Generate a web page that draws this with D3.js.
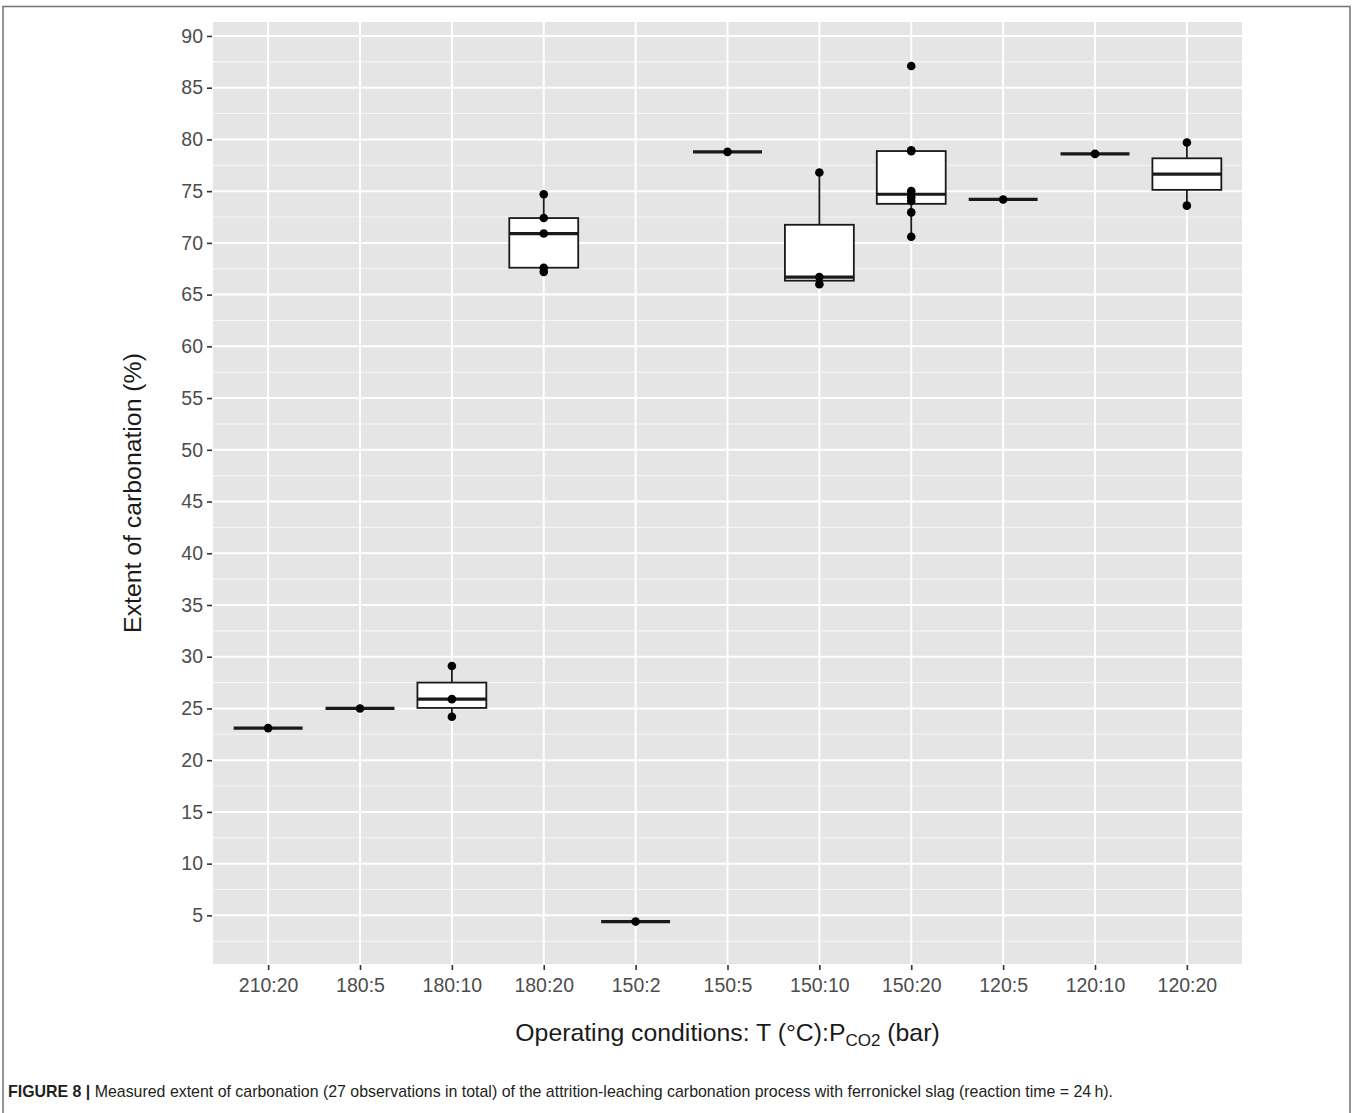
<!DOCTYPE html>
<html>
<head>
<meta charset="utf-8">
<script src="https://cdn.jsdelivr.net/npm/d3@7"></script>
<style>
  html, body { margin: 0; padding: 0; background: #fff; }
  svg { display: block; }
</style>
</head>
<body>
<svg id="chart" width="1352" height="1113"></svg>
<script>
// ---- data ----
const categories = ["210:20","180:5","180:10","180:20","150:2","150:5","150:10","150:20","120:5","120:10","120:20"];
const obs_210_20 = [23.1];
const obs_180_5  = [25.0];
const obs_180_10 = [24.2, 25.9, 29.1];
const obs_180_20 = [67.2, 67.6, 70.9, 72.4, 74.7];
const obs_150_2  = [4.4];
const obs_150_5  = [78.8];
const obs_150_10 = [66.0, 66.7, 76.8];
const obs_150_20 = [70.6, 72.95, 74.05, 74.4, 75.0, 78.85, 78.95, 87.1];
const obs_120_5  = [74.2];
const obs_120_10 = [78.6];
const obs_120_20 = [73.6, 79.7];
const observations = [obs_210_20, obs_180_5, obs_180_10, obs_180_20, obs_150_2, obs_150_5,
                      obs_150_10, obs_150_20, obs_120_5, obs_120_10, obs_120_20];
const yTicks = [5,10,15,20,25,30,35,40,45,50,55,60,65,70,75,80,85,90];
const yMinor = [2.5,7.5,12.5,17.5,22.5,27.5,32.5,37.5,42.5,47.5,52.5,57.5,62.5,67.5,72.5,77.5,82.5,87.5];
const yTitle = "Extent of carbonation (%)";
const captionBold = "FIGURE 8 |";
const captionText = " Measured extent of carbonation (27 observations in total) of the attrition-leaching carbonation process with ferronickel slag (reaction time = 24\u2009h).";

// ---- layout ----
const svg = d3.select("#chart");
const P = {left: 213, right: 1242, top: 22, bottom: 964};
const font = "Arial, 'Liberation Sans', Helvetica, sans-serif";

// frame
svg.append("rect").attr("x", 3).attr("y", 6.5).attr("width", 1347).attr("height", 1120)
  .attr("fill", "none").attr("stroke", "#7a7a7a").attr("stroke-width", 1.6);

// ggplot discrete expansion: 0.6 units on each side
const step = (P.right - P.left) / (categories.length + 0.2);
const xScalePoint = d3.scalePoint().domain(categories)
  .range([P.left + step * 0.6, P.right - step * 0.6]);
const xc = c => xScalePoint(c);
const y = d3.scaleLinear().domain([0.3, 91.35]).range([P.bottom, P.top]);

// panel
svg.append("rect").attr("x", P.left).attr("y", P.top)
  .attr("width", P.right - P.left).attr("height", P.bottom - P.top).attr("fill", "#e5e5e5");

const grid = svg.append("g");
grid.selectAll(".minor").data(yMinor).join("line")
  .attr("x1", P.left).attr("x2", P.right)
  .attr("y1", d => y(d)).attr("y2", d => y(d))
  .attr("stroke", "#f6f6f6").attr("stroke-width", 1.1);
grid.selectAll(".major").data(yTicks).join("line")
  .attr("x1", P.left).attr("x2", P.right)
  .attr("y1", d => y(d)).attr("y2", d => y(d))
  .attr("stroke", "#ffffff").attr("stroke-width", 2);
grid.selectAll(".vmajor").data(categories).join("line")
  .attr("x1", d => xc(d)).attr("x2", d => xc(d))
  .attr("y1", P.top).attr("y2", P.bottom)
  .attr("stroke", "#ffffff").attr("stroke-width", 2);

// axes
const yAxis = d3.axisLeft(y).tickValues(yTicks).tickSize(5).tickPadding(4);
const gy = svg.append("g").attr("transform", `translate(${P.left - 1},0)`).call(yAxis);
gy.select(".domain").remove();
gy.selectAll(".tick line").attr("stroke", "#333").attr("stroke-width", 1.6);
gy.selectAll(".tick text").attr("fill", "#4d4d4d").style("font-family", font).style("font-size", "19.5px");

const xAxis = d3.axisBottom(xScalePoint).tickSize(5).tickPadding(8);
const gx = svg.append("g").attr("transform", `translate(0,${P.bottom + 1})`).call(xAxis);
gx.select(".domain").remove();
gx.selectAll(".tick line").attr("stroke", "#333").attr("stroke-width", 1.6);
gx.selectAll(".tick text").attr("fill", "#4d4d4d").style("font-family", font).style("font-size", "19.5px");

// axis titles
const xt = svg.append("text").attr("x", (P.left + P.right) / 2).attr("y", 1041)
  .attr("text-anchor", "middle").attr("fill", "#1a1a1a")
  .style("font-family", font).style("font-size", "24.8px");
xt.append("tspan").text("Operating conditions: T (°C):P");
xt.append("tspan").attr("dy", 5).style("font-size", "17px").text("CO2");
xt.append("tspan").attr("dy", -5).text(" (bar)");

svg.append("text")
  .attr("transform", `translate(141,${(P.top + P.bottom) / 2}) rotate(-90)`)
  .attr("text-anchor", "middle").attr("fill", "#1a1a1a")
  .style("font-family", font).style("font-size", "24.8px").text(yTitle);

// boxplots
const bw = step * 0.75;
const boxes = svg.append("g");
categories.forEach((c, i) => {
  const vals = observations[i].slice().sort(d3.ascending);
  const q1 = d3.quantile(vals, 0.25), med = d3.quantile(vals, 0.5), q3 = d3.quantile(vals, 0.75);
  const iqr = q3 - q1;
  const lo = d3.min(vals.filter(v => v >= q1 - 1.5 * iqr));
  const hi = d3.max(vals.filter(v => v <= q3 + 1.5 * iqr));
  const cx = xc(c);
  const g = boxes.append("g");
  g.append("line").attr("x1", cx).attr("x2", cx).attr("y1", y(q3)).attr("y2", y(hi))
    .attr("stroke", "#1a1a1a").attr("stroke-width", 1.8);
  g.append("line").attr("x1", cx).attr("x2", cx).attr("y1", y(q1)).attr("y2", y(lo))
    .attr("stroke", "#1a1a1a").attr("stroke-width", 1.8);
  g.append("rect").attr("x", cx - bw / 2).attr("width", bw)
    .attr("y", y(q3)).attr("height", Math.max(0, y(q1) - y(q3)))
    .attr("fill", "#ffffff").attr("stroke", "#1a1a1a").attr("stroke-width", 1.8);
  g.append("line").attr("x1", cx - bw / 2).attr("x2", cx + bw / 2)
    .attr("y1", y(med)).attr("y2", y(med))
    .attr("stroke", "#1a1a1a").attr("stroke-width", 3.2);
  g.selectAll("circle").data(vals).join("circle")
    .attr("cx", cx).attr("cy", d => y(d)).attr("r", 4.3).attr("fill", "#000");
});

// caption
const cap = svg.append("text").attr("x", 8).attr("y", 1097)
  .style("font-family", "'Liberation Sans Narrow', 'Arial Narrow', Arial, sans-serif")
  .style("font-size", "17px").attr("fill", "#231f20")
  .attr("textLength", 1105).attr("lengthAdjust", "spacingAndGlyphs");
cap.append("tspan").style("font-weight", "bold").text(captionBold);
cap.append("tspan").text(captionText);
</script>
</body>
</html>
